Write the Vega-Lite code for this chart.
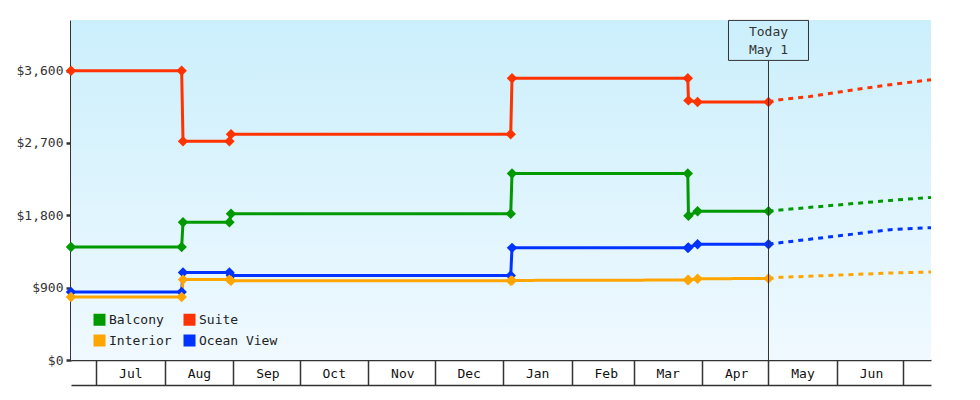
{
  "$schema": "https://vega.github.io/schema/vega-lite/v6.json",
  "width": 860,
  "height": 340,
  "autosize": "none",
  "padding": {"left": 71, "top": 20, "right": 49, "bottom": 40},
  "background": "white",
  "config": {
    "font": "DejaVu Sans Mono",
    "view": {"stroke": null},
    "axis": {"grid": false, "title": null}
  },
  "datasets": {
    "prices": [
      {"date": "2022-06-19T13:00", "cabin": "Suite", "price": 3600, "kind": "Actual"},
      {"date": "2022-08-08T14:00", "cabin": "Suite", "price": 3600, "kind": "Actual"},
      {"date": "2022-08-09T05:00", "cabin": "Suite", "price": 2720, "kind": "Actual"},
      {"date": "2022-08-30T04:00", "cabin": "Suite", "price": 2720, "kind": "Actual"},
      {"date": "2022-08-30T22:00", "cabin": "Suite", "price": 2810, "kind": "Actual"},
      {"date": "2023-01-04T10:00", "cabin": "Suite", "price": 2810, "kind": "Actual"},
      {"date": "2023-01-05T00:00", "cabin": "Suite", "price": 3505, "kind": "Actual"},
      {"date": "2023-03-25T12:00", "cabin": "Suite", "price": 3505, "kind": "Actual"},
      {"date": "2023-03-25T19:00", "cabin": "Suite", "price": 3230, "kind": "Actual"},
      {"date": "2023-03-29T22:00", "cabin": "Suite", "price": 3210, "kind": "Actual"},
      {"date": "2023-05-01T00:00", "cabin": "Suite", "price": 3210, "kind": "Actual"},
      {"date": "2022-06-19T13:00", "cabin": "Balcony", "price": 1405, "kind": "Actual"},
      {"date": "2022-08-08T14:00", "cabin": "Balcony", "price": 1405, "kind": "Actual"},
      {"date": "2022-08-09T05:00", "cabin": "Balcony", "price": 1715, "kind": "Actual"},
      {"date": "2022-08-30T04:00", "cabin": "Balcony", "price": 1715, "kind": "Actual"},
      {"date": "2022-08-30T22:00", "cabin": "Balcony", "price": 1820, "kind": "Actual"},
      {"date": "2023-01-04T10:00", "cabin": "Balcony", "price": 1820, "kind": "Actual"},
      {"date": "2023-01-05T00:00", "cabin": "Balcony", "price": 2320, "kind": "Actual"},
      {"date": "2023-03-25T12:00", "cabin": "Balcony", "price": 2320, "kind": "Actual"},
      {"date": "2023-03-25T19:00", "cabin": "Balcony", "price": 1795, "kind": "Actual"},
      {"date": "2023-03-29T22:00", "cabin": "Balcony", "price": 1850, "kind": "Actual"},
      {"date": "2023-05-01T00:00", "cabin": "Balcony", "price": 1850, "kind": "Actual"},
      {"date": "2022-06-19T13:00", "cabin": "Ocean View", "price": 845, "kind": "Actual"},
      {"date": "2022-08-08T14:00", "cabin": "Ocean View", "price": 845, "kind": "Actual"},
      {"date": "2022-08-09T05:00", "cabin": "Ocean View", "price": 1090, "kind": "Actual"},
      {"date": "2022-08-30T04:00", "cabin": "Ocean View", "price": 1090, "kind": "Actual"},
      {"date": "2022-08-30T22:00", "cabin": "Ocean View", "price": 1050, "kind": "Actual"},
      {"date": "2023-01-04T10:00", "cabin": "Ocean View", "price": 1050, "kind": "Actual"},
      {"date": "2023-01-05T00:00", "cabin": "Ocean View", "price": 1395, "kind": "Actual"},
      {"date": "2023-03-25T12:00", "cabin": "Ocean View", "price": 1395, "kind": "Actual"},
      {"date": "2023-03-25T19:00", "cabin": "Ocean View", "price": 1400, "kind": "Actual"},
      {"date": "2023-03-29T22:00", "cabin": "Ocean View", "price": 1440, "kind": "Actual"},
      {"date": "2023-05-01T00:00", "cabin": "Ocean View", "price": 1440, "kind": "Actual"},
      {"date": "2022-06-19T13:00", "cabin": "Interior", "price": 785, "kind": "Actual"},
      {"date": "2022-08-08T14:00", "cabin": "Interior", "price": 785, "kind": "Actual"},
      {"date": "2022-08-09T05:00", "cabin": "Interior", "price": 1000, "kind": "Actual"},
      {"date": "2022-08-30T04:00", "cabin": "Interior", "price": 1000, "kind": "Actual"},
      {"date": "2022-08-30T22:00", "cabin": "Interior", "price": 985, "kind": "Actual"},
      {"date": "2023-01-04T10:00", "cabin": "Interior", "price": 985, "kind": "Actual"},
      {"date": "2023-01-05T00:00", "cabin": "Interior", "price": 990, "kind": "Actual"},
      {"date": "2023-03-25T12:00", "cabin": "Interior", "price": 995, "kind": "Actual"},
      {"date": "2023-03-25T19:00", "cabin": "Interior", "price": 995, "kind": "Actual"},
      {"date": "2023-03-29T22:00", "cabin": "Interior", "price": 1010, "kind": "Actual"},
      {"date": "2023-05-01T00:00", "cabin": "Interior", "price": 1015, "kind": "Actual"},
      {"date": "2023-05-01T00:00", "cabin": "Suite", "price": 3210, "kind": "Projected"},
      {"date": "2023-05-06T05:00", "cabin": "Suite", "price": 3238, "kind": "Projected"},
      {"date": "2023-05-19T19:00", "cabin": "Suite", "price": 3279, "kind": "Projected"},
      {"date": "2023-06-11T00:00", "cabin": "Suite", "price": 3371, "kind": "Projected"},
      {"date": "2023-06-25T00:00", "cabin": "Suite", "price": 3425, "kind": "Projected"},
      {"date": "2023-07-13T12:00", "cabin": "Suite", "price": 3487, "kind": "Projected"},
      {"date": "2023-05-01T00:00", "cabin": "Balcony", "price": 1850, "kind": "Projected"},
      {"date": "2023-05-06T05:00", "cabin": "Balcony", "price": 1866, "kind": "Projected"},
      {"date": "2023-05-28T00:00", "cabin": "Balcony", "price": 1919, "kind": "Projected"},
      {"date": "2023-06-25T00:00", "cabin": "Balcony", "price": 1985, "kind": "Projected"},
      {"date": "2023-07-13T12:00", "cabin": "Balcony", "price": 2023, "kind": "Projected"},
      {"date": "2023-05-01T00:00", "cabin": "Ocean View", "price": 1440, "kind": "Projected"},
      {"date": "2023-05-06T05:00", "cabin": "Ocean View", "price": 1459, "kind": "Projected"},
      {"date": "2023-06-02T00:00", "cabin": "Ocean View", "price": 1546, "kind": "Projected"},
      {"date": "2023-06-25T00:00", "cabin": "Ocean View", "price": 1621, "kind": "Projected"},
      {"date": "2023-07-13T12:00", "cabin": "Ocean View", "price": 1646, "kind": "Projected"},
      {"date": "2023-05-01T00:00", "cabin": "Interior", "price": 1015, "kind": "Projected"},
      {"date": "2023-05-06T05:00", "cabin": "Interior", "price": 1028, "kind": "Projected"},
      {"date": "2023-06-02T00:00", "cabin": "Interior", "price": 1057, "kind": "Projected"},
      {"date": "2023-06-25T00:00", "cabin": "Interior", "price": 1082, "kind": "Projected"},
      {"date": "2023-07-13T12:00", "cabin": "Interior", "price": 1095, "kind": "Projected"}
    ]
  },
  "resolve": {
    "axis": {"x": "independent", "y": "independent"},
    "legend": {"color": "independent"}
  },
  "layer": [
    {
      "data": {"values": [{}]},
      "mark": {
        "type": "rect",
        "color": {
          "gradient": "linear", "x1": 0, "y1": 0, "x2": 0, "y2": 1,
          "stops": [{"offset": 0, "color": "#cbeffc"}, {"offset": 1, "color": "#f0f9ff"}]
        }
      }
    },
    {
      "data": {"name": "prices"},
      "mark": {"type": "line", "strokeWidth": 3},
      "encoding": {
        "x": {
          "field": "date", "type": "temporal",
          "scale": {"domain": [
            {"year": 2022, "month": 6, "date": 19, "hours": 13},
            {"year": 2023, "month": 7, "date": 13, "hours": 12}
          ]},
          "axis": {
            "orient": "bottom",
            "values": [
              {"year": 2022, "month": 7, "date": 1}, {"year": 2022, "month": 8, "date": 1},
              {"year": 2022, "month": 9, "date": 1}, {"year": 2022, "month": 10, "date": 1},
              {"year": 2022, "month": 11, "date": 1}, {"year": 2022, "month": 12, "date": 1},
              {"year": 2023, "month": 1, "date": 1}, {"year": 2023, "month": 2, "date": 1},
              {"year": 2023, "month": 3, "date": 1}, {"year": 2023, "month": 4, "date": 1},
              {"year": 2023, "month": 5, "date": 1}, {"year": 2023, "month": 6, "date": 1},
              {"year": 2023, "month": 7, "date": 1}
            ],
            "labelExpr": "datum.index == 1 ? '' : timeFormat(datum.value, '%b')",
            "labelOffset": 34,
            "labelPadding": -12,
            "labelBaseline": "middle",
            "labelAlign": "center",
            "labelFlush": false,
            "labelOverlap": false,
            "labelBound": false,
            "labelFontSize": 13,
            "labelColor": "#111",
            "tickSize": 25,
            "tickWidth": 1.5,
            "tickColor": "#333",
            "domainColor": "#333",
            "domainWidth": 1.5
          }
        },
        "y": {
          "field": "price", "type": "quantitative",
          "scale": {"domain": [0, 4230], "nice": false},
          "axis": {
            "orient": "left",
            "values": [0, 900, 1800, 2700, 3600],
            "format": "$,.0f",
            "labelFontSize": 13,
            "labelColor": "#333",
            "labelPadding": 3,
            "tickSize": 5,
            "tickWidth": 2.5,
            "tickColor": "#333",
            "domainColor": "#333",
            "domainWidth": 3
          }
        },
        "color": {
          "field": "cabin", "type": "nominal",
          "scale": {
            "domain": ["Balcony", "Interior", "Suite", "Ocean View"],
            "range": ["#009900", "#ffa500", "#ff3300", "#0033ff"]
          },
          "legend": null
        },
        "strokeDash": {
          "field": "kind", "type": "nominal",
          "scale": {"domain": ["Actual", "Projected"], "range": [[1, 0], [5, 5]]},
          "legend": null
        }
      }
    },
    {
      "data": {"name": "prices"},
      "transform": [{"filter": "datum.kind == 'Actual'"}],
      "mark": {"type": "point", "shape": "diamond", "filled": true, "size": 110, "opacity": 1},
      "encoding": {
        "x": {"field": "date", "type": "temporal", "axis": null},
        "y": {"field": "price", "type": "quantitative", "axis": null},
        "color": {
          "field": "cabin", "type": "nominal",
          "legend": {
            "title": null,
            "orient": "none",
            "legendX": 22,
            "legendY": 293,
            "columns": 2,
            "padding": 0,
            "symbolType": "square",
            "symbolSize": 144,
            "symbolStrokeWidth": 0,
            "labelFontSize": 13,
            "labelColor": "#222",
            "labelOffset": 3,
            "columnPadding": 11,
            "rowPadding": 7
          }
        }
      }
    },
    {
      "data": {"values": [{}]},
      "mark": {"type": "rule", "color": "#333", "strokeWidth": 1},
      "encoding": {
        "x": {
          "datum": {"year": 2023, "month": 5, "date": 1}, "type": "temporal",
          "axis": {
            "orient": "bottom", "offset": 25, "labels": false, "ticks": false,
            "domain": true, "domainColor": "#333", "domainWidth": 1.5
          }
        },
        "y": {"datum": 0, "type": "quantitative", "axis": null},
        "y2": {"datum": 3724}
      }
    },
    {
      "data": {"values": [{}]},
      "mark": {
        "type": "point", "shape": "M-1,-0.5H1V0.5H-1Z", "size": 6400,
        "filled": false, "stroke": "#333", "strokeWidth": 1, "opacity": 1
      },
      "encoding": {
        "x": {"datum": {"year": 2023, "month": 5, "date": 1}, "type": "temporal", "axis": null},
        "y": {"datum": 3976, "type": "quantitative", "axis": null}
      }
    },
    {
      "data": {"values": [{}]},
      "mark": {
        "type": "text", "text": ["Today", "May 1"], "lineHeight": 18, "dy": -8,
        "fontSize": 13, "color": "#333", "align": "center", "baseline": "middle"
      },
      "encoding": {
        "x": {"datum": {"year": 2023, "month": 5, "date": 1}, "type": "temporal", "axis": null},
        "y": {"datum": 3976, "type": "quantitative", "axis": null}
      }
    }
  ]
}
